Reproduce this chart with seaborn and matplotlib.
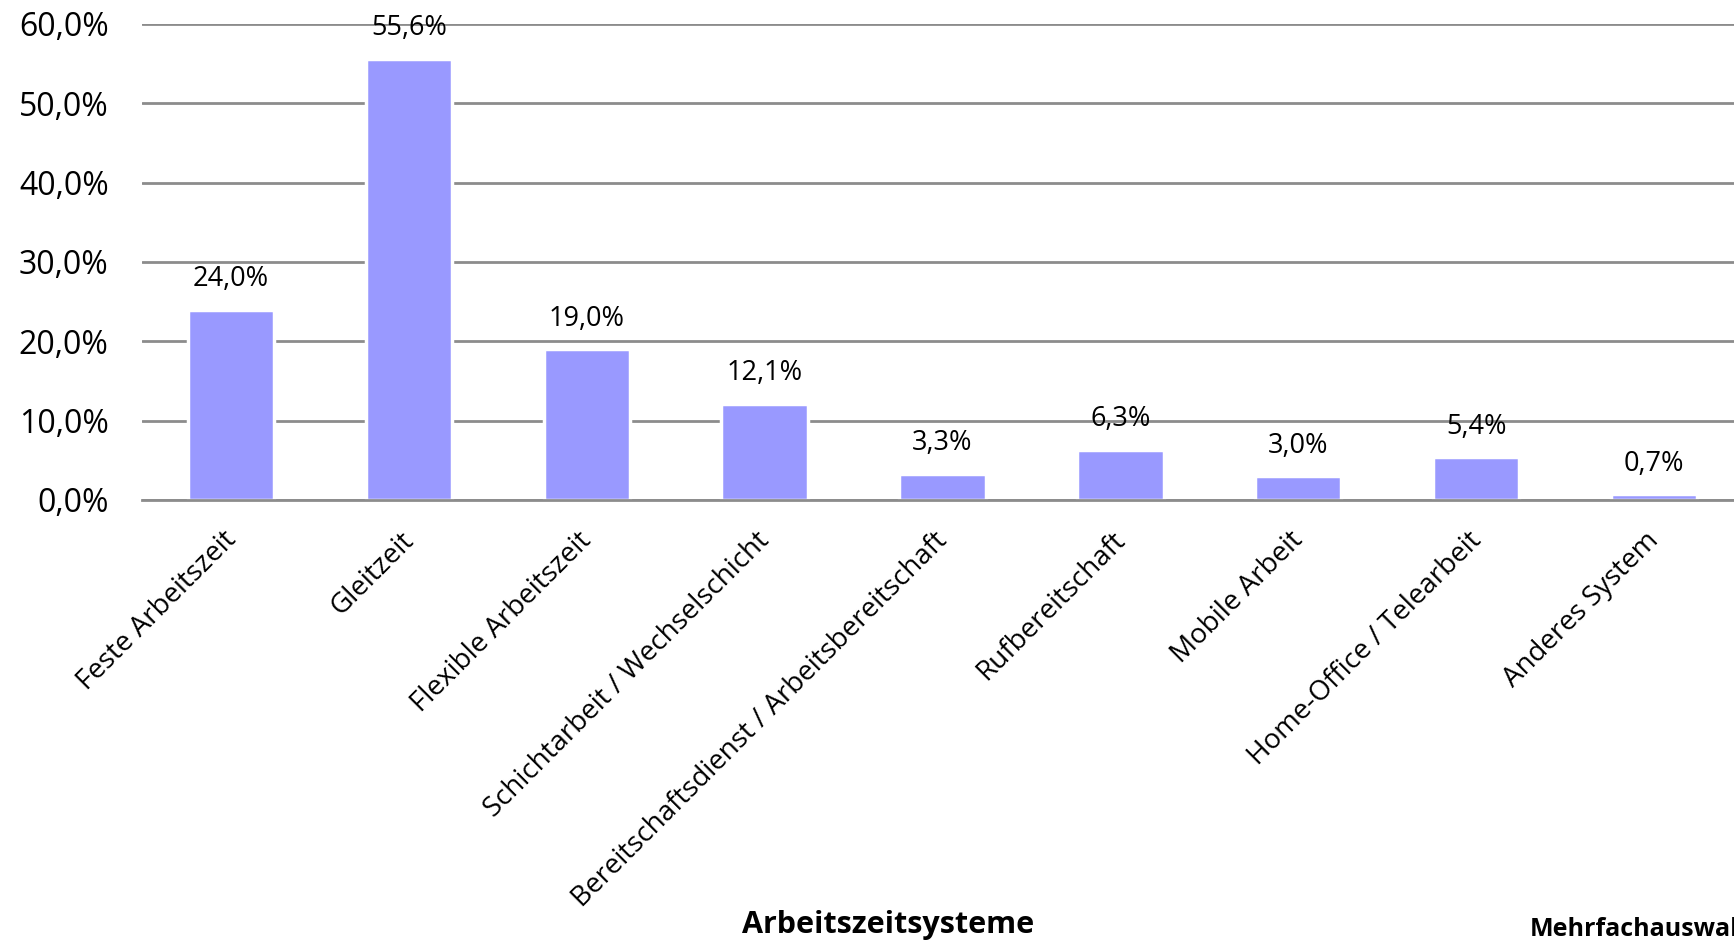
import matplotlib
matplotlib.use("Agg")
import matplotlib.pyplot as plt
import matplotlib.transforms as mtransforms
import seaborn as sns
import pandas as pd
from matplotlib.ticker import FuncFormatter

categories = [
    "Feste Arbeitszeit",
    "Gleitzeit",
    "Flexible Arbeitszeit",
    "Schichtarbeit / Wechselschicht",
    "Bereitschaftsdienst / Arbeitsbereitschaft",
    "Rufbereitschaft",
    "Mobile Arbeit",
    "Home-Office / Telearbeit",
    "Anderes System",
]
values = [24.0, 55.6, 19.0, 12.1, 3.3, 6.3, 3.0, 5.4, 0.7]
y_ticks = [0, 10, 20, 30, 40, 50, 60]

sns.set_theme(style="white")
plt.rcParams["font.family"] = ["Open Sans", "DejaVu Sans"]

df = pd.DataFrame({"System": categories, "Anteil": values})

fig = plt.figure(figsize=(17.34, 9.44), dpi=100)
ax = fig.add_axes([142 / 1734, 1 - 500 / 944, (1743 - 142) / 1734, (500 - 24) / 944])

ax.yaxis.grid(True, color="#8c8c8c", linewidth=2)
ax.set_axisbelow(True)

sns.barplot(data=df, x="System", y="Anteil", color="#9999FF", saturation=1,
            width=0.485, edgecolor="white", linewidth=2.5, ax=ax, zorder=3)

ax.set_ylim(0, 60)
ax.set_xlim(-0.5, len(categories) - 0.5)
ax.set_yticks(y_ticks)
ax.yaxis.set_major_formatter(FuncFormatter(lambda v, _: f"{v:.1f}%".replace(".", ",")))

for s in ["left", "right", "top"]:
    ax.spines[s].set_visible(False)
ax.spines["bottom"].set_color("#8c8c8c")
ax.spines["bottom"].set_linewidth(2)
ax.spines["bottom"].set_zorder(4)

ax.tick_params(axis="y", length=0, pad=24, labelsize=23, labelcolor="black")
ax.tick_params(axis="x", length=0, pad=19, labelsize=20, labelcolor="black")
shift = mtransforms.ScaledTranslation(-9 / 100, 0, fig.dpi_scale_trans)
for lbl in ax.get_xticklabels():
    lbl.set_rotation(45)
    lbl.set_ha("right")
    lbl.set_va("top")
    lbl.set_rotation_mode("anchor")
    lbl.set_transform(lbl.get_transform() + shift)

for i, v in enumerate(values):
    ax.annotate(f"{v:.1f}%".replace(".", ","), xy=(i, v), xytext=(0, 22),
                textcoords="offset points", ha="center", va="center",
                fontsize=19.5, color="black")

ax.set_xlabel("")
ax.set_ylabel("")

fig.text(888 / 1734, 1 - 925 / 944, "Arbeitszeitsysteme", ha="center", va="center",
         fontsize=22, fontweight="bold", color="black")
fig.text(1530 / 1734, 1 - 929 / 944, "Mehrfachauswahl", ha="left", va="center",
         fontsize=18, fontweight="bold", color="black")

fig.savefig("out.png", dpi=100, facecolor="white")
